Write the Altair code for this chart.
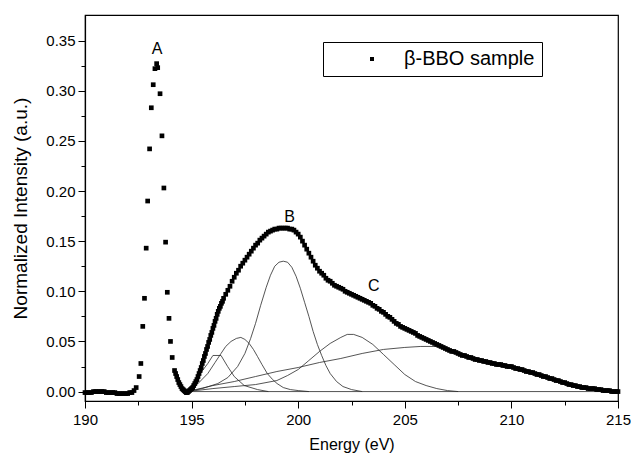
import altair as alt
import pandas as pd

FONT = "Liberation Sans"

# ---------------- measured data (read from the reference) ----------------
# flat pre-edge baseline
energy_base = [190.0, 190.1, 190.2, 190.3, 190.4, 190.5, 190.6, 190.7, 190.8, 190.9,
               191.0, 191.1, 191.2, 191.3, 191.4, 191.5, 191.6, 191.7, 191.8, 191.9,
               192.0, 192.1, 192.2, 192.3, 192.4]
intens_base = [-0.001, -0.001, -0.001, -0.001, 0.000, 0.000, 0.000, 0.000, 0.000, 0.000,
               -0.001, -0.001, -0.001, -0.001, -0.001, -0.002, -0.002, -0.002, -0.002, -0.002,
               -0.002, -0.001, -0.001, 0.001, 0.004]

# sharp peak A (individual samples are visible)
energy_peak = [192.54, 192.62, 192.71, 192.79, 192.87, 192.94, 193.03, 193.11, 193.20, 193.28,
               193.36, 193.41, 193.52, 193.61, 193.70, 193.78, 193.86, 193.94, 194.01, 194.09]
intens_peak = [0.015, 0.028, 0.065, 0.093, 0.143, 0.190, 0.242, 0.283, 0.306, 0.322,
               0.327, 0.323, 0.297, 0.255, 0.203, 0.149, 0.099, 0.073, 0.050, 0.034]

# dip and steep rising edge (closely spaced samples)
energy_edge = [194.20, 194.25, 194.30, 194.35, 194.40, 194.45, 194.50, 194.55, 194.60, 194.65,
               194.70, 194.75, 194.80, 194.85, 194.90, 194.95, 195.00, 195.05, 195.10, 195.15,
               195.20, 195.25, 195.30, 195.35, 195.40, 195.45, 195.50, 195.55, 195.60, 195.65,
               195.70, 195.75, 195.80, 195.85, 195.90, 195.95, 196.00, 196.05, 196.10, 196.15,
               196.20, 196.25, 196.30, 196.35, 196.40, 196.45, 196.50]
intens_edge = [0.021, 0.018, 0.015, 0.012, 0.009, 0.007, 0.005, 0.003, 0.002, 0.001,
               0.000, -0.001, -0.001, 0.000, 0.001, 0.002, 0.003, 0.004, 0.006, 0.008,
               0.010, 0.012, 0.015, 0.018, 0.021, 0.024, 0.028, 0.031, 0.035, 0.038,
               0.042, 0.045, 0.049, 0.052, 0.056, 0.059, 0.063, 0.066, 0.070, 0.073,
               0.077, 0.080, 0.083, 0.085, 0.088, 0.090, 0.093]

# broad band B, shoulder C and tail
energy_dense = [196.6, 196.7, 196.8, 196.9,
                197.0, 197.1, 197.2, 197.3, 197.4, 197.5, 197.6, 197.7, 197.8, 197.9,
                198.0, 198.1, 198.2, 198.3, 198.4, 198.5, 198.6, 198.7, 198.8, 198.9,
                199.0, 199.1, 199.2, 199.3, 199.4, 199.5, 199.6, 199.7, 199.8, 199.9,
                200.0, 200.1, 200.2, 200.3, 200.4, 200.5, 200.6, 200.7, 200.8, 200.9,
                201.0, 201.1, 201.2, 201.3, 201.4, 201.5, 201.6, 201.7, 201.8, 201.9,
                202.0, 202.1, 202.2, 202.3, 202.4, 202.5, 202.6, 202.7, 202.8, 202.9,
                203.0, 203.1, 203.2, 203.3, 203.4, 203.5, 203.6, 203.7, 203.8, 203.9,
                204.0, 204.1, 204.2, 204.3, 204.4, 204.5, 204.6, 204.7, 204.8, 204.9,
                205.0, 205.1, 205.2, 205.3, 205.4, 205.5, 205.6, 205.7, 205.8, 205.9,
                206.0, 206.1, 206.2, 206.3, 206.4, 206.5, 206.6, 206.7, 206.8, 206.9,
                207.0, 207.1, 207.2, 207.3, 207.4, 207.5, 207.6, 207.7, 207.8, 207.9,
                208.0, 208.1, 208.2, 208.3, 208.4, 208.5, 208.6, 208.7, 208.8, 208.9,
                209.0, 209.1, 209.2, 209.3, 209.4, 209.5, 209.6, 209.7, 209.8, 209.9,
                210.0, 210.1, 210.2, 210.3, 210.4, 210.5, 210.6, 210.7, 210.8, 210.9,
                211.0, 211.1, 211.2, 211.3, 211.4, 211.5, 211.6, 211.7, 211.8, 211.9,
                212.0, 212.1, 212.2, 212.3, 212.4, 212.5, 212.6, 212.7, 212.8, 212.9,
                213.0, 213.1, 213.2, 213.3, 213.4, 213.5, 213.6, 213.7, 213.8, 213.9,
                214.0, 214.1, 214.2, 214.3, 214.4, 214.5, 214.6, 214.7, 214.8, 214.9,
                215.0]
intens_dense = [0.097, 0.101, 0.105, 0.110,
                0.114, 0.118, 0.121, 0.125, 0.128, 0.131, 0.134, 0.137, 0.140, 0.143,
                0.146, 0.148, 0.151, 0.153, 0.155, 0.157, 0.159, 0.160, 0.161, 0.162,
                0.162, 0.163, 0.163, 0.163, 0.163, 0.163, 0.162, 0.162, 0.161, 0.159,
                0.157, 0.154, 0.150, 0.146, 0.142, 0.138, 0.134, 0.130, 0.126, 0.123,
                0.120, 0.118, 0.116, 0.113, 0.111, 0.110, 0.108, 0.106, 0.105, 0.104,
                0.103, 0.102, 0.100, 0.099, 0.098, 0.097, 0.096, 0.095, 0.094, 0.093,
                0.092, 0.091, 0.090, 0.089, 0.088, 0.086, 0.085, 0.083, 0.082, 0.080,
                0.079, 0.077, 0.075, 0.074, 0.072, 0.070, 0.068, 0.067, 0.065, 0.064,
                0.063, 0.062, 0.061, 0.060, 0.059, 0.058, 0.056, 0.055, 0.054, 0.053,
                0.052, 0.051, 0.050, 0.049, 0.048, 0.047, 0.046, 0.045, 0.044, 0.043,
                0.042, 0.041, 0.040, 0.040, 0.039, 0.038, 0.037, 0.036, 0.036, 0.035,
                0.034, 0.034, 0.033, 0.032, 0.032, 0.031, 0.031, 0.030, 0.030, 0.029,
                0.029, 0.028, 0.028, 0.027, 0.027, 0.027, 0.026, 0.026, 0.025, 0.025,
                0.025, 0.024, 0.023, 0.023, 0.022, 0.022, 0.021, 0.020, 0.020, 0.019,
                0.019, 0.018, 0.017, 0.017, 0.016, 0.015, 0.015, 0.014, 0.013, 0.013,
                0.012, 0.011, 0.011, 0.010, 0.009, 0.009, 0.008, 0.007, 0.007, 0.006,
                0.006, 0.005, 0.005, 0.004, 0.004, 0.004, 0.003, 0.003, 0.003, 0.003,
                0.002, 0.002, 0.002, 0.001, 0.001, 0.001, 0.001, 0.000, 0.000, 0.000,
                0.000]

SERIES_NAME = "β-BBO sample"

# ---------------- fitted components (thin lines) ----------------
fit_baseline_e = [194.8, 215.0]
fit_baseline_i = [0.0, 0.0]

fit1_e = [194.8, 195.3, 195.76, 196.0, 196.38, 196.69, 197.0, 197.47, 198.09, 198.6]
fit1_i = [0.0, 0.015, 0.028, 0.036, 0.036, 0.025, 0.015, 0.006, 0.002, 0.0]

fit2_e = [194.8, 195.3, 195.76, 196.1, 196.38, 196.6, 196.85, 197.1, 197.31, 197.5, 197.7,
          197.9, 198.09, 198.3, 198.55, 198.8, 199.01, 199.3, 199.63, 200.0, 200.5]
fit2_i = [0.0, 0.008, 0.018, 0.029, 0.038, 0.045, 0.050, 0.053, 0.054, 0.052, 0.048,
          0.042, 0.035, 0.027, 0.018, 0.012, 0.008, 0.004, 0.002, 0.001, 0.0]

fit3_e = [194.8, 195.5, 196.23, 196.7, 197.16, 197.5, 197.77, 198.0, 198.24, 198.5, 198.7,
          198.9, 199.1, 199.3, 199.5, 199.7, 199.9, 200.1, 200.3, 200.5, 200.7, 200.9,
          201.1, 201.3, 201.5, 201.8, 202.1, 202.5, 203.0]
fit3_i = [0.0, 0.003, 0.008, 0.014, 0.025, 0.038, 0.053, 0.068, 0.086, 0.104, 0.116,
          0.125, 0.129, 0.130, 0.129, 0.124, 0.115, 0.103, 0.089, 0.075, 0.060, 0.047,
          0.036, 0.026, 0.018, 0.010, 0.005, 0.002, 0.0]

fit4_e = [194.8, 196.0, 197.0, 198.0, 199.0, 199.5, 200.0, 200.5, 201.0, 201.5, 202.0,
          202.3, 202.6, 203.0, 203.5, 204.0, 204.5, 205.0, 205.5, 206.0, 206.5, 207.0, 207.5]
fit4_i = [0.0, 0.003, 0.005, 0.007, 0.011, 0.016, 0.022, 0.031, 0.040, 0.048, 0.054,
          0.057, 0.057, 0.054, 0.047, 0.037, 0.027, 0.017, 0.010, 0.006, 0.003, 0.001, 0.0]

fit5_e = [194.8, 196.0, 197.0, 198.0, 199.0, 200.0, 201.0, 202.0, 203.0, 204.0, 205.0,
          205.75, 206.5, 207.0, 208.0, 209.0, 210.0, 211.0, 212.0, 213.0, 214.0, 215.0]
fit5_i = [0.0, 0.006, 0.010, 0.015, 0.020, 0.024, 0.029, 0.033, 0.038, 0.042, 0.044,
          0.045, 0.045, 0.042, 0.034, 0.029, 0.025, 0.019, 0.012, 0.006, 0.002, 0.0]

# ---------------- peak labels ----------------
label_text = ["A", "B", "C"]
label_energy = [193.38, 199.6, 203.55]
label_intens = [0.342, 0.174, 0.105]

# ---------------- axes ----------------
x_major = [190, 195, 200, 205, 210, 215]
x_minor = [192.5, 197.5, 202.5, 207.5, 212.5]
y_major = [0.00, 0.05, 0.10, 0.15, 0.20, 0.25, 0.30, 0.35]
y_minor = [0.025, 0.075, 0.125, 0.175, 0.225, 0.275, 0.325]
X_DOMAIN = [190, 215]
Y_DOMAIN = [-0.0094, 0.3755]

# ---------------- build tables ----------------
points_df = pd.DataFrame({
    "energy": energy_base + energy_peak + energy_edge + energy_dense,
    "intensity": intens_base + intens_peak + intens_edge + intens_dense,
})
points_df["series"] = SERIES_NAME

fits = [("baseline", fit_baseline_e, fit_baseline_i), ("f1", fit1_e, fit1_i),
        ("f2", fit2_e, fit2_i), ("f3", fit3_e, fit3_i), ("f4", fit4_e, fit4_i),
        ("f5", fit5_e, fit5_i)]
lines_df = pd.concat([pd.DataFrame({"energy": e, "intensity": i, "component": name})
                      for name, e, i in fits], ignore_index=True)

labels_df = pd.DataFrame({"energy": label_energy, "intensity": label_intens, "text": label_text})

x_scale = alt.Scale(domain=X_DOMAIN, nice=False, zero=False)
y_scale = alt.Scale(domain=Y_DOMAIN, nice=False, zero=False)

lines = alt.Chart(lines_df).mark_line(color="#2a2a2a", strokeWidth=0.8).encode(
    x=alt.X("energy:Q", scale=x_scale, axis=None),
    y=alt.Y("intensity:Q", scale=y_scale, axis=None),
    detail="component:N",
    order="energy:Q",
)

points = alt.Chart(points_df).mark_square(size=22, opacity=1, strokeWidth=0).encode(
    x=alt.X("energy:Q", scale=x_scale,
            axis=alt.Axis(values=x_major, orient="bottom", format="d", title="Energy (eV)",
                          tickSize=7, labelPadding=4, titlePadding=9, titleFontSize=16,
                          labelFontSize=15, labelFlush=False)),
    y=alt.Y("intensity:Q", scale=y_scale,
            axis=alt.Axis(values=y_major, orient="left", format=".2f",
                          title="Normalized Intensity (a.u.)", tickSize=7, labelPadding=3,
                          titlePadding=15, titleFontSize=19, labelFontSize=15,
                          labelFlush=False)),
    color=alt.Color("series:N", scale=alt.Scale(range=["black"]),
                    legend=alt.Legend(title=None, orient="none", legendX=238, legendY=27,
                                      strokeColor="black", fillColor="white",
                                      padding=7, symbolType="square", symbolSize=16,
                                      symbolFillColor="black", symbolStrokeWidth=0,
                                      symbolOffset=32, labelOffset=22, labelFont=FONT,
                                      labelFontSize=20, labelColor="black", labelLimit=400)),
)

labels = alt.Chart(labels_df).mark_text(font=FONT, fontSize=16, color="black",
                                         baseline="middle", align="center").encode(
    x=alt.X("energy:Q", scale=x_scale, axis=None),
    y=alt.Y("intensity:Q", scale=y_scale, axis=None),
    text="text:N",
)

minor = alt.Chart(points_df).mark_point(opacity=0).encode(
    x=alt.X("energy:Q", scale=x_scale,
            axis=alt.Axis(values=x_minor, orient="bottom", labels=False, tickSize=4,
                          domain=False, title=None)),
    y=alt.Y("intensity:Q", scale=y_scale,
            axis=alt.Axis(values=y_minor, orient="left", labels=False, tickSize=4,
                          domain=False, title=None)),
)

chart = alt.layer(lines, points, labels, minor).resolve_axis(
    x="independent", y="independent"
).properties(
    width=533, height=386,
    autosize=alt.AutoSizeParams(type="none"),
    padding={"left": 77, "top": 7, "right": 13, "bottom": 52},
).configure_view(
    stroke="black", strokeWidth=1.2
).configure_axis(
    domainColor="black", tickColor="black", labelColor="black", titleColor="black",
    labelFont=FONT, titleFont=FONT, titleFontWeight="normal", grid=False,
    domainWidth=1.2, tickWidth=1
)

chart.save("out.html", embed_options={"renderer": "svg", "actions": False})
